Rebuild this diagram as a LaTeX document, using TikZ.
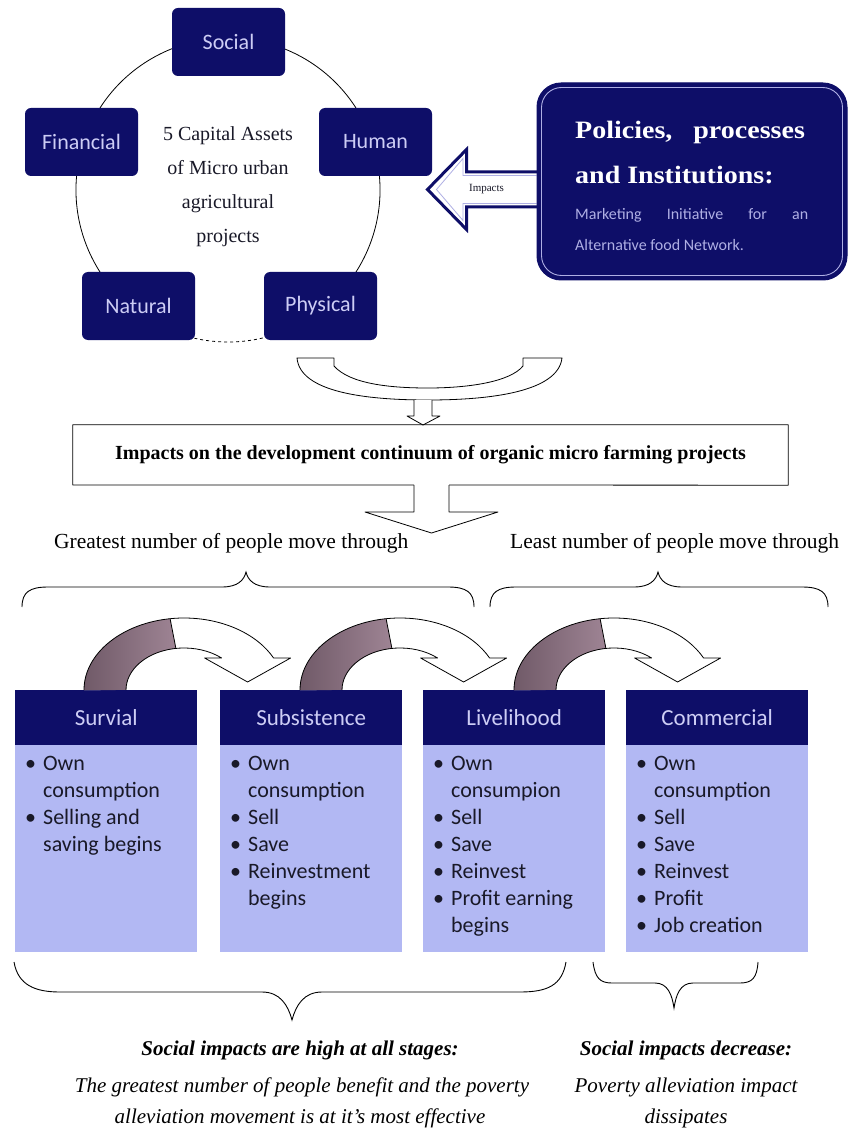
\documentclass[tikz,border=0pt]{standalone}
\usepackage{fontspec}
\setmainfont{Liberation Serif}
\newfontfamily\calib{Carlito}
\usetikzlibrary{calc}
\definecolor{navyb}{RGB}{14,14,104}
\definecolor{lavt}{RGB}{205,205,245}
\definecolor{lavs}{RGB}{175,175,228}
\definecolor{peri}{RGB}{178,184,243}
\definecolor{mauve}{RGB}{158,132,148}
\definecolor{mauvedk}{RGB}{112,90,104}
\definecolor{txtc}{RGB}{25,25,40}
\newcommand\bulx{\textbullet}
\pgfdeclarelayer{bg}
\pgfdeclarelayer{bgwhite}
\pgfsetlayers{bgwhite,bg,main}
\begin{document}
\begin{tikzpicture}[x=1pt,y=-1pt,
  capbox/.style={fill=navyb, rounded corners=6pt, minimum width=113pt, minimum height=68pt, inner sep=0pt, font=\calib\fontsize{22}{26}\selectfont, text=lavt},
  sthead/.style={fill=navyb, minimum width=182pt, minimum height=55pt, inner sep=0pt, anchor=north west, font=\calib\fontsize{23}{28}\selectfont, text=lavt},
  stbody/.style={fill=peri, minimum width=182pt, minimum height=207pt, inner sep=0pt, anchor=north west},
  bultext/.style={anchor=north west, inner sep=0pt, font=\calib\fontsize{22}{27}\selectfont, text=txtc, align=left},
  bracel/.style={draw=black, line width=0.9pt},
  outl/.style={draw=black, line width=0.8pt, line join=round},
  sertext/.style={inner sep=0pt, font=\fontsize{21.5}{26}\selectfont, text=black},
  btext/.style={inner sep=0pt, font=\itshape\fontsize{21}{25}\selectfont, text=black},
  bbtext/.style={inner sep=0pt, font=\bfseries\itshape\fontsize{21}{25}\selectfont, text=black}
]
\useasboundingbox (0,0) rectangle (849,1131);
\begin{pgfonlayer}{bgwhite}
\fill[white] (0,0) rectangle (849,1131);
\end{pgfonlayer}

% ---- circle of capital assets
\coordinate (cc) at (228,190);
\draw[line width=0.8pt] (cc) ++(110:152) arc[start angle=110, end angle=430, radius=152];
\draw[line width=0.8pt, dashed] (cc) ++(70:152) arc[start angle=70, end angle=110, radius=152];
\node[capbox] (soc) at (228.5,42) {Social};
\node[capbox] (fin) at (81.5,142) {Financial};
\node[capbox] (hum) at (375.5,142) {Human};
\node[capbox] (nat) at (138.5,306) {Natural};
\node[capbox] (phy) at (320.5,306) {Physical};
\node[inner sep=0pt, align=center, font=\fontsize{20}{34}\selectfont, text=txtc] (ctr) at (228,187) {5 Capital Assets\\of Micro urban\\agricultural\\projects};

% ---- policies box
\node[fill=navyb, draw=navyb, line width=1pt, rounded corners=24pt, minimum width=310pt, minimum height=197pt, inner sep=0pt] (pol) at (692,181.5) {};
\draw[lavs, line width=0.9pt, rounded corners=20pt] ($(pol.south west)+(5,-5)$) rectangle ($(pol.north east)+(-5,5)$);
\node[anchor=west, inner sep=0pt, text=white, font=\bfseries\fontsize{25}{30}\selectfont] (pol1) at (575,132) {\scalebox{1.12}[1]{Policies,\hspace{0.5em} processes}};
\node[anchor=west, inner sep=0pt, text=white, font=\bfseries\fontsize{25}{30}\selectfont] (pol2) at (575,175) {\scalebox{1.12}[1]{and Institutions:}};
\node[anchor=west, inner sep=0pt, text=lavs, font=\calib\fontsize{16}{20}\selectfont] (pol3) at (575,215) {\makebox[233pt][s]{Marketing\ \ Initiative\ \ for\ \ an}};
\node[anchor=west, inner sep=0pt, text=lavs, font=\calib\fontsize{16}{20}\selectfont] (pol4) at (575,245) {Alternative food Network.};

% ---- impacts block arrow (policies -> human)
\path (pol.west) ++(0,8) coordinate (ab);
\begin{pgfonlayer}{bg}
\draw[navyb, line width=3pt, fill=white, line join=miter]
  ($(ab)+(10,-17.5)$) -- ($(ab)+(-70,-17.5)$) -- ($(ab)+(-70,-40)$) -- ($(ab)+(-109,0)$)
  -- ($(ab)+(-70,40)$) -- ($(ab)+(-70,17.5)$) -- ($(ab)+(10,17.5)$) -- cycle;
\draw[lavs, line width=0.8pt, line join=miter]
  ($(ab)+(0,-14)$) -- ($(ab)+(-73.5,-14)$) -- ($(ab)+(-73.5,-31)$) -- ($(ab)+(-100,0)$)
  -- ($(ab)+(-73.5,31)$) -- ($(ab)+(-73.5,14)$) -- ($(ab)+(0,14)$);
\end{pgfonlayer}
\node[inner sep=0pt, font=\fontsize{11}{13}\selectfont, text=txtc] (impl) at ($(ab)+(-50,0)$) {Impacts};

% ---- U shaped arrow
\draw[outl, fill=white] (297,358) -- (334,358) -- (334,366) .. controls (350,384) and (390,388) .. (428,388)
  .. controls (468,388) and (510,382) .. (523,366) -- (523,358) -- (562,358)
  .. controls (558,392) and (490,400) .. (428,400) .. controls (365,400) and (300,392) .. (297,358) -- cycle;

% ---- impacts box
\node[minimum width=715pt, minimum height=60pt, inner sep=0pt, font=\bfseries\fontsize{20}{24}\selectfont] (ibox) at (430.5,455) {Impacts on the development continuum of organic micro farming projects};
\draw[outl, fill=white] (414,400) -- (414,416) -- (407,416) -- (423,425) -- (440,416) -- (432,416) -- (432,400);
\draw[outl] (414,485) -| (ibox.north west) -| (ibox.south east) -- (449,485);
\draw[outl, fill=white] (449,485) -- (449,512) -- (498,512) -- (431.5,533) -- (365,512) -- (414,512) -- (414,485);

% ---- move through labels and braces
\node[sertext, anchor=west] (gr) at (54,543) {Greatest number of people move through};
\node[sertext, anchor=west] (le) at (510,543) {Least number of people move through};
\draw[bracel] (22,607) .. controls (22,592) and (30,587) .. (48,587) -- (222,587)
  .. controls (238,587) and (244,580) .. (246,572) .. controls (248,580) and (254,587) .. (270,587)
  -- (448,587) .. controls (466,587) and (474,592) .. (474,607);
\draw[bracel] (490,607) .. controls (490,592) and (498,587) .. (516,587) -- (634,587)
  .. controls (650,587) and (656,580) .. (658,572) .. controls (660,580) and (666,587) .. (682,587)
  -- (802,587) .. controls (820,587) and (828,592) .. (828,607);

% ---- stage boxes
\foreach \xx/\nm/\tt in {15/sa/Survial, 220/sb/Subsistence, 423/sc/Livelihood, 626/sd/Commercial}{
  \node[sthead] (\nm h) at (\xx,690) {\tt};
  \node[stbody] (\nm b) at (\xx,745) {};
}
\node[bultext] (sat) at (25,751) {\begin{tabular}{@{}l@{\hspace{7pt}}l@{}}\bulx & Own\\ & consumption\\ \bulx & Selling and\\ & saving begins\end{tabular}};
\node[bultext] (sbt) at (230,751) {\begin{tabular}{@{}l@{\hspace{7pt}}l@{}}\bulx & Own\\ & consumption\\ \bulx & Sell\\ \bulx & Save\\ \bulx & Reinvestment\\ & begins\end{tabular}};
\node[bultext] (sct) at (433,751) {\begin{tabular}{@{}l@{\hspace{7pt}}l@{}}\bulx & Own\\ & consumpion\\ \bulx & Sell\\ \bulx & Save\\ \bulx & Reinvest\\ \bulx & Profit earning\\ & begins\end{tabular}};
\node[bultext] (sdt) at (636,751) {\begin{tabular}{@{}l@{\hspace{7pt}}l@{}}\bulx & Own\\ & consumption\\ \bulx & Sell\\ \bulx & Save\\ \bulx & Reinvest\\ \bulx & Profit\\ \bulx & Job creation\end{tabular}};

% ---- curved arrows between stages
\foreach \xo in {84,300,514}{
  \begin{scope}[shift={(\xo,0)}]
    \fill[white] (0,690) arc[start angle=180, end angle=333.6, x radius=100, y radius=72]
      -- (206.6,658) -- (163.6,682) -- (120.6,658) -- (137.6,658)
      arc[start angle=310.4, end angle=180, x radius=58, y radius=42] -- cycle;
    \shade[left color=mauvedk, right color=mauve] (0,690) arc[start angle=180, end angle=262, x radius=100, y radius=72]
      -- (91.9,648.4) arc[start angle=262, end angle=180, x radius=58, y radius=42] -- cycle;
    \draw[outl] (0,690) arc[start angle=180, end angle=333.6, x radius=100, y radius=72]
      -- (206.6,658) -- (163.6,682) -- (120.6,658) -- (137.6,658)
      arc[start angle=310.4, end angle=180, x radius=58, y radius=42];
    \draw[outl] (86.1,618.7) -- (91.9,648.4);
  \end{scope}
}

% ---- bottom braces and texts
\draw[bracel] (14,962) .. controls (18,985) and (35,992) .. (60,992) -- (262,992)
  .. controls (280,992) and (288,1005) .. (292,1020) .. controls (296,1005) and (304,992) .. (322,992)
  -- (520,992) .. controls (548,992) and (562,985) .. (566,962);
\draw[bracel] (593,962) .. controls (595,978) and (600,983) .. (612,983) -- (655,983)
  .. controls (668,983) and (672,995) .. (674,1008) .. controls (676,995) and (680,983) .. (693,983)
  -- (740,983) .. controls (752,983) and (757,978) .. (758,962);
\node[bbtext] (bl1) at (300,1050) {Social impacts are high at all stages:};
\node[btext] (bl2) at (302,1087) {The greatest number of people benefit and the poverty};
\node[btext] (bl3) at (300,1118) {alleviation movement is at it's most effective};
\node[bbtext] (br1) at (686,1050) {Social impacts decrease:};
\node[btext] (br2) at (686,1087) {Poverty alleviation impact};
\node[btext] (br3) at (686,1118) {dissipates};
\end{tikzpicture}
\end{document}
